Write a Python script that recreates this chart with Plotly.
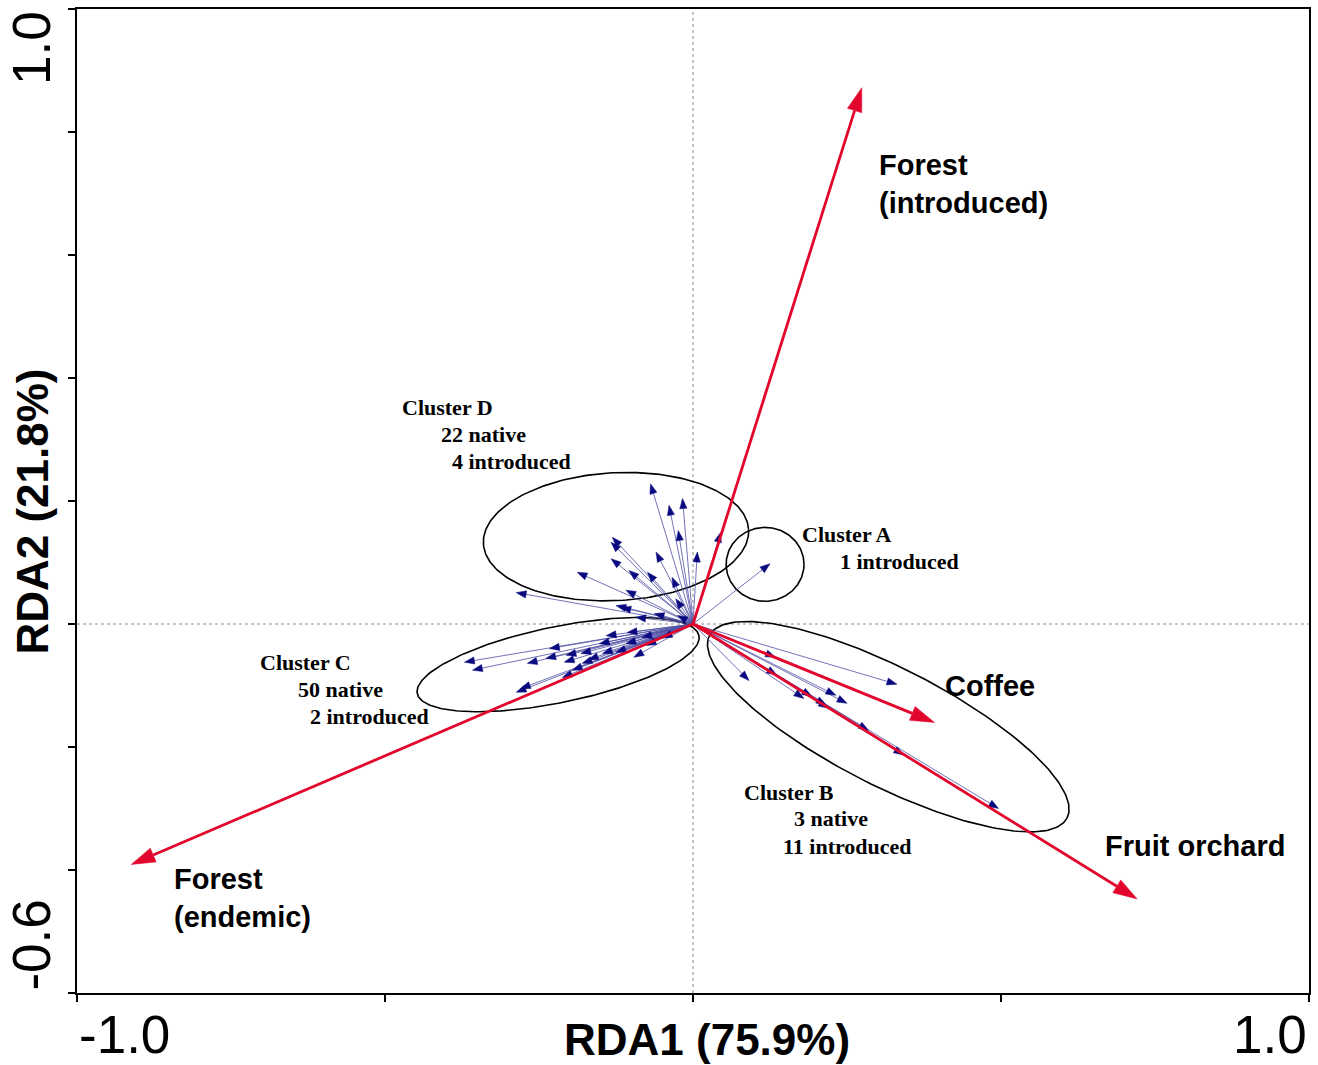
import math
import plotly.graph_objects as go

# ---- RDA biplot: species scores grouped in clusters, land-use vectors in red ----

# Environmental (land-use) vectors
env_names = ["Forest (introduced)", "Forest (endemic)", "Coffee", "Fruit orchard"]
env_x = [0.274, -0.912, 0.392, 0.721]
env_y = [0.872, -0.391, -0.160, -0.447]

# Species scores per cluster
cluster_a_x = [0.125]
cluster_a_y = [0.098]

cluster_b_x = [0.331, 0.091, 0.134, 0.136, 0.180, 0.193, 0.216, 0.220, 0.232, 0.250, 0.285, 0.342, 0.496]
cluster_b_y = [-0.098, -0.092, -0.054, -0.083, -0.121, -0.118, -0.132, -0.137, -0.116, -0.129, -0.173, -0.213, -0.300]

cluster_c_x = [-0.371, -0.358, -0.287, -0.280, -0.269, -0.233, -0.239, -0.209, -0.206, -0.182, -0.180,
               -0.196, -0.212, -0.152, -0.141, -0.107, -0.147, -0.125, -0.109, -0.076, -0.050, -0.083,
               -0.096, -0.170]
cluster_c_y = [-0.062, -0.075, -0.111, -0.105, -0.064, -0.040, -0.056, -0.062, -0.051, -0.048, -0.064,
               -0.075, -0.087, -0.032, -0.019, -0.014, -0.048, -0.046, -0.032, -0.035, -0.023, -0.022,
               -0.054, -0.058]

cluster_d_x = [-0.069, -0.039, -0.017, -0.024, -0.060, 0.007, -0.131, -0.133, -0.133, -0.104, -0.074,
               -0.034, -0.188, -0.287, -0.109, -0.028, -0.125, -0.117, -0.093, -0.063, -0.025, 0.045]
cluster_d_y = [0.228, 0.193, 0.204, 0.152, 0.117, 0.117, 0.141, 0.133, 0.106, 0.087, 0.084,
               0.076, 0.084, 0.051, 0.055, 0.041, 0.030, 0.027, 0.011, 0.017, 0.014, 0.149]

# Cluster annotations: (lines, x, y of each line)
cluster_labels = [
    (["Cluster D", "22 native", "4 introduced"], [-0.476, -0.413, -0.395], [0.352, 0.308, 0.264]),
    (["Cluster A", "1 introduced"], [0.174, 0.236], [0.146, 0.102]),
    (["Cluster C", "50 native", "2 introduced"], [-0.706, -0.644, -0.625], [-0.062, -0.106, -0.150]),
    (["Cluster B", "3 native", "11 introduced"], [0.080, 0.161, 0.143], [-0.274, -0.317, -0.361]),
]
env_labels = [
    ("Forest<br>(introduced)", 0.298, 0.715),
    ("Forest<br>(endemic)", -0.846, -0.446),
    ("Coffee", 0.406, -0.101),
    ("Fruit orchard", 0.666, -0.361),
]

# Cluster envelopes: centre, semi-axes (px), rotation (deg)
ellipses = [
    (-0.125, 0.142, 133, 64, 3),
    (0.117, 0.097, 39, 37, 0),
    (-0.219, -0.066, 144, 38, 11.6),
    (0.317, -0.167, 201, 59, -27),
]

# ---- layout geometry ----
W, H = 1318, 1065
ML, MR, MT, MB = 77, 7, 8, 72
XR = [-1.0, 1.0]
YR = [-0.6, 1.0]
SX = (W - ML - MR) / (XR[1] - XR[0])   # px per x unit
SY = (H - MT - MB) / (YR[1] - YR[0])   # px per y unit


def arrows(xs, ys, head_len, head_half):
    """Shaft segments and filled head polygons for arrows from the origin."""
    lx, ly, hx, hy = [], [], [], []
    for x1, y1 in zip(xs, ys):
        dx, dy = x1 * SX, y1 * SY
        L = math.hypot(dx, dy)
        if L == 0:
            continue
        ux, uy = dx / L, dy / L
        hl = min(head_len, L)
        bx, by = x1 - ux * hl / SX, y1 - uy * hl / SY
        px, py = -uy, ux
        lx += [0, bx, None]
        ly += [0, by, None]
        hx += [x1, bx + px * head_half / SX, bx - px * head_half / SX, x1, None]
        hy += [y1, by + py * head_half / SY, by - py * head_half / SY, y1, None]
    return lx, ly, hx, hy


def ellipse(cx, cy, a, b, ang, n=240):
    t = [2 * math.pi * i / n for i in range(n + 1)]
    c, s = math.cos(math.radians(ang)), math.sin(math.radians(ang))
    xs = [cx + (a * math.cos(u) * c - b * math.sin(u) * s) / SX for u in t]
    ys = [cy + (a * math.cos(u) * s + b * math.sin(u) * c) / SY for u in t]
    return xs, ys


fig = go.Figure()

for cx, cy, a, b, ang in ellipses:
    ex, ey = ellipse(cx, cy, a, b, ang)
    fig.add_trace(go.Scatter(x=ex, y=ey, mode="lines", line=dict(color="black", width=1.6),
                             hoverinfo="skip", showlegend=False))

sp_x = cluster_a_x + cluster_b_x + cluster_c_x + cluster_d_x
sp_y = cluster_a_y + cluster_b_y + cluster_c_y + cluster_d_y
lx, ly, hx, hy = arrows(sp_x, sp_y, 10, 3.6)
fig.add_trace(go.Scatter(x=lx, y=ly, mode="lines", line=dict(color="#4f4fa6", width=0.8),
                         hoverinfo="skip", showlegend=False))
fig.add_trace(go.Scatter(x=hx, y=hy, mode="lines", fill="toself", fillcolor="#0a0a80",
                         line=dict(color="#0a0a80", width=0.5), hoverinfo="skip", showlegend=False))

lx, ly, hx, hy = arrows(env_x, env_y, 24, 7.5)
fig.add_trace(go.Scatter(x=lx, y=ly, mode="lines", line=dict(color="#e2062c", width=2.8),
                         hoverinfo="skip", showlegend=False))
fig.add_trace(go.Scatter(x=hx, y=hy, mode="lines", fill="toself", fillcolor="#e2062c",
                         line=dict(color="#e2062c", width=0.5), hoverinfo="skip", showlegend=False))

# Dotted reference lines through the origin
fig.add_shape(type="line", x0=XR[0], x1=XR[1], y0=0, y1=0, layer="below",
              line=dict(color="#8a8a8a", width=1, dash="dot"))
fig.add_shape(type="line", x0=0, x1=0, y0=YR[0], y1=YR[1], layer="below",
              line=dict(color="#8a8a8a", width=1, dash="dot"))

serif = dict(family="Liberation Serif, Times New Roman, serif", size=22, color="black", weight="bold")
sans_b = dict(family="Liberation Sans, Arial, sans-serif", size=29, color="black", weight="bold")

for lines, xs, ys in cluster_labels:
    for txt, x, y in zip(lines, xs, ys):
        fig.add_annotation(x=x, y=y, text=txt, showarrow=False, xanchor="left", yanchor="middle",
                           font=serif)

for txt, x, y in env_labels:
    fig.add_annotation(x=x, y=y, text=txt, showarrow=False, xanchor="left", yanchor="middle",
                       align="left", font=sans_b)

# End tick labels and axis titles
tick_font = dict(family="Liberation Sans, Arial, sans-serif", size=53, color="black")
title_font = dict(family="Liberation Sans, Arial, sans-serif", size=44, color="black", weight="bold")
pw, ph = W - ML - MR, H - MT - MB
fig.add_annotation(xref="paper", yref="paper", x=0, y=(993 - 1035) / ph, text="-1.0",
                   showarrow=False, xanchor="left", yanchor="middle", font=tick_font)
fig.add_annotation(xref="paper", yref="paper", x=1, y=(993 - 1035) / ph, text="1.0",
                   showarrow=False, xanchor="right", yanchor="middle", font=tick_font)
fig.add_annotation(xref="paper", yref="paper", x=(31 - ML) / pw, y=1, text="1.0", textangle=-90,
                   showarrow=False, xanchor="center", yanchor="top", font=tick_font)
fig.add_annotation(xref="paper", yref="paper", x=(31 - ML) / pw, y=0, text="-0.6", textangle=-90,
                   showarrow=False, xanchor="center", yanchor="bottom", font=tick_font)
fig.add_annotation(xref="paper", yref="paper", x=(708 - ML) / pw, y=(993 - 1040) / ph,
                   text="RDA1 (75.9%)", showarrow=False, xanchor="center", yanchor="middle",
                   font=title_font)
fig.add_annotation(xref="paper", yref="paper", x=(32 - ML) / pw, y=(993 - 511) / ph,
                   text="RDA2 (21.8%)", textangle=-90, showarrow=False, xanchor="center",
                   yanchor="middle", font=title_font)

axis_common = dict(showgrid=False, zeroline=False, showline=True, linecolor="black", linewidth=2,
                   mirror=True, ticks="outside", ticklen=7, tickwidth=2, tickcolor="black",
                   showticklabels=False)
fig.update_xaxes(range=XR, tickvals=[-1.0, -0.5, 0.0, 0.5, 1.0], **axis_common)
fig.update_yaxes(range=YR, tickvals=[-0.6, -0.4, -0.2, 0.0, 0.2, 0.4, 0.6, 0.8, 1.0], **axis_common)

fig.update_layout(width=W, height=H, margin=dict(l=ML, r=MR, t=MT, b=MB),
                  paper_bgcolor="white", plot_bgcolor="white", showlegend=False)

fig.write_html("out.html")
